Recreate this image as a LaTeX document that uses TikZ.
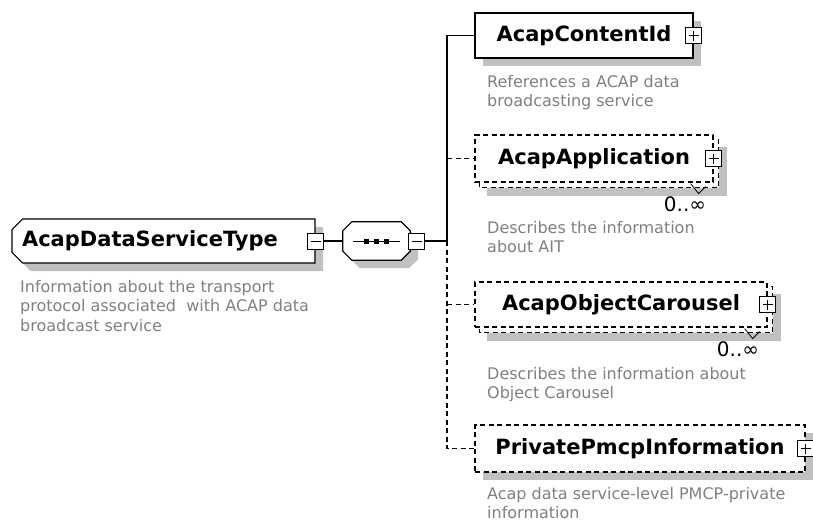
\documentclass[tikz,border=0pt]{standalone}
\usepackage{fontspec}
\setmainfont{DejaVu Sans}
\usetikzlibrary{shapes.misc,shadows,backgrounds}

\definecolor{shadowgray}{HTML}{C0C0C0}
\definecolor{descgray}{HTML}{808080}

\newcommand\elemfont{\fontsize{21}{21}\selectfont\bfseries}
\newcommand\descfont{\fontsize{16}{19.5}\selectfont}
\newcommand\multfont{\fontsize{20}{20}\selectfont}

\tikzset{
  wire/.style={line width=1.2pt},
  dashline/.style={dash pattern=on 5pt off 3.5pt},
  boxshadow/.style={drop shadow={shadow xshift=8pt,shadow yshift=-8pt,fill=shadowgray,opacity=1}},
  elem/.style={draw, fill=white, line width=1.2pt, minimum height=45pt, inner sep=0pt, font=\elemfont},
  optional/.style={dashline},
  typebox/.style={elem, chamfered rectangle, chamfered rectangle corners={north west,south west},
    chamfered rectangle xsep=7pt, inner xsep=3pt, minimum height=44pt},
  seqbox/.style={minimum width=67pt, minimum height=38pt, inner sep=0pt},
  togglebox/.style={draw, fill=white, line width=1pt, minimum size=16pt, inner sep=0pt},
  minusbox/.style={togglebox, path picture={
    \draw[line width=1pt] ([xshift=3pt]path picture bounding box.west) -- ([xshift=-3pt]path picture bounding box.east);}},
  plusbox/.style={togglebox, path picture={
    \draw[line width=1pt] ([xshift=3pt]path picture bounding box.west) -- ([xshift=-3pt]path picture bounding box.east)
      ([yshift=-3pt]path picture bounding box.north) -- ([yshift=3pt]path picture bounding box.south);}},
  desc/.style={anchor=north west, inner sep=0pt, align=left, text=descgray, font=\descfont},
  mult/.style={inner sep=0pt, font=\multfont},
}

\begin{document}
\begin{tikzpicture}[x=1pt,y=-1pt]
\useasboundingbox (0,0) rectangle (813,522);

% complex type and its sequence
\node[typebox, boxshadow] (dst) at (163.5,241) {\makebox[283pt][l]{AcapDataServiceType}};
\node[minusbox] (dstm) at (dst.east) {};
\node[seqbox] (seq) at (376.5,241) {};
\draw[wire, fill=white, boxshadow] ([shift={(9,0)}]seq.north west) -- ([shift={(-9,0)}]seq.north east)
  -- ([shift={(0,9)}]seq.north east) -- ([shift={(0,-9)}]seq.south east) -- ([shift={(-9,0)}]seq.south east)
  -- ([shift={(9,0)}]seq.south west) -- ([shift={(0,-9)}]seq.south west) -- ([shift={(0,9)}]seq.north west) -- cycle;
\node[minusbox, anchor=west] (seqm) at ([xshift=-2pt]seq.east) {};
\coordinate (trunk) at (447,241);
\draw[line width=1pt] ([xshift=10pt]seq.west) -- ([xshift=-10pt]seq.east);
\foreach \dx in {-10,0,10}
  \fill ([shift={(\dx-2.5,-2.5)}]seq.center) rectangle +(5,5);

% child elements
\node[elem, boxshadow, minimum width=218pt] (cid) at (584,35.5) {AcapContentId};
\node[elem, optional, minimum width=238pt, minimum height=47pt] (app) at (594,158.5) {AcapApplication};
\node[elem, optional, minimum width=292pt] (oc) at (621,304.5) {AcapObjectCarousel};
\node[elem, optional, boxshadow, minimum width=330pt, minimum height=47pt] (pmcp) at (640,448.5) {PrivatePmcpInformation};
\foreach \e in {cid,app,oc,pmcp}
  \node[plusbox] (\e-p) at (\e.east) {};

% annotations
\node[desc] (dstd) at (20,280) {Information about the transport\\protocol associated\ \ with ACAP data\\broadcast service};
\node[desc] (cidd) at (487,75) {References a ACAP data\\broadcasting service};
\node[desc] (appd) at (487,221) {Describes the information\\about AIT};
\node[desc] (ocd) at (487,367) {Describes the information about\\Object Carousel};
\node[desc] (pmcpd) at (487,487) {Acap data service-level PMCP-private\\information};
\node[mult] (appm) at (685,204) {0..∞};
\node[mult] (ocm) at (738,349) {0..∞};
\foreach \e in {app,oc}
  \draw[line width=0.8pt] ([shift={(-23,1)}]\e.south east) -- ++(8,10) -- ++(7,-7);

% connectors
\draw[wire] (dstm) -- (seq);
\draw[wire] (seqm) -- (trunk) |- (cid);
\draw[wire, dashline] (trunk) |- (pmcp);
\draw[wire, dashline] (trunk |- app.west) -- (app);
\draw[wire, dashline] (trunk |- oc.west) -- (oc);

% repeated elements: copy and shadow behind
\begin{scope}[on background layer]
\foreach \e in {app,oc}{
  \fill[shadowgray] ([shift={(13,13)}]\e.north west) rectangle ([shift={(13,13)}]\e.south east);
  \draw[wire, dashline, fill=white] ([shift={(5,5)}]\e.north west) rectangle ([shift={(5,5)}]\e.south east);
}
\end{scope}
\end{tikzpicture}
\end{document}
